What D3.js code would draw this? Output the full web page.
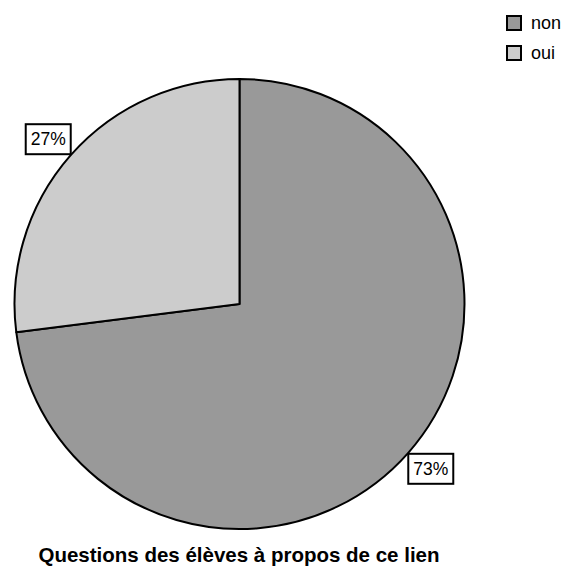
<!DOCTYPE html>
<html><head><meta charset="utf-8">
<script src="https://cdn.jsdelivr.net/npm/d3@7"></script>
<style>body{margin:0;background:#fff}svg{display:block}</style>
</head><body>
<svg id="c" width="574" height="568"></svg>
<script>
const categories = ["non", "oui"];
const values = [73, 27];
const colors = ["#999999", "#cccccc"];
const title = "Questions des élèves à propos de ce lien";

const svg = d3.select("#c");
const font = "'Liberation Sans', Arial, sans-serif";
const cx = 239.5, cy = 304, r = 225;

const pie = d3.pie().sort(null).value(d => d.v);
const arcs = pie(categories.map((c, i) => ({c, v: values[i], col: colors[i]})));
const arc = d3.arc().innerRadius(0).outerRadius(r);

const g = svg.append("g").attr("transform", `translate(${cx},${cy})`);
g.selectAll("path").data(arcs).join("path")
  .attr("d", arc).attr("fill", d => d.data.col)
  .attr("stroke", "#000").attr("stroke-width", 2).attr("stroke-linejoin", "round");

// labels
const bw = 45, bh = 30;
arcs.forEach(d => {
  const a = (d.startAngle + d.endAngle) / 2;
  const px = r * Math.sin(a), py = -r * Math.cos(a);
  const bx = px >= 0 ? px : px - bw;
  const by = py >= 0 ? py + 1 : py - bh - 1;
  g.append("rect").attr("x", bx).attr("y", by).attr("width", bw).attr("height", bh)
    .attr("fill", "#fff").attr("stroke", "#000").attr("stroke-width", 2);
  g.append("text").attr("x", bx + bw / 2).attr("y", by + bh / 2 + 6)
    .attr("text-anchor", "middle").attr("font-family", font).attr("font-size", 17.5)
    .text(Math.round(d.value) + "%");
});

// legend
const lg = svg.append("g");
categories.forEach((c, i) => {
  const y = 16 + i * 30;
  lg.append("rect").attr("x", 507).attr("y", y).attr("width", 14).attr("height", 14)
    .attr("fill", colors[i]).attr("stroke", "#000").attr("stroke-width", 2);
  lg.append("text").attr("x", 531).attr("y", y + 13).attr("font-family", font)
    .attr("font-size", 18).text(c);
});

svg.append("text").attr("x", 239).attr("y", 562).attr("text-anchor", "middle")
  .attr("font-family", font).attr("font-size", 20.5).attr("font-weight", "bold").text(title);
</script>
</body></html>
